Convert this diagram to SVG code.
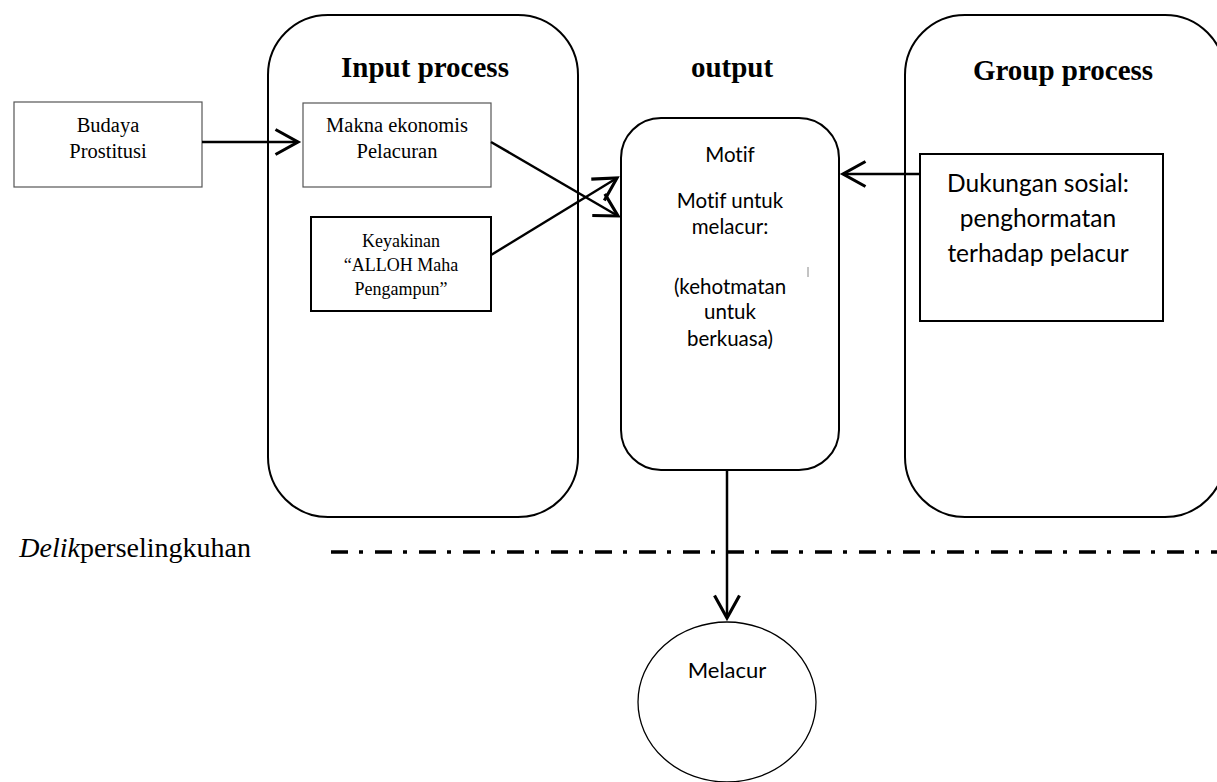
<svg xmlns="http://www.w3.org/2000/svg" width="1217" height="782" viewBox="0 0 1217 782">
<style>
.frame{fill:none;stroke:#000;stroke-width:2}
.box{fill:#fff;stroke:#555;stroke-width:1.2}
.boxb{fill:#fff;stroke:#000;stroke-width:2}
.conn{fill:none;stroke:#000;stroke-width:2.5}
.tm{font-family:"Liberation Serif","Times New Roman",serif;fill:#000;text-anchor:middle}
.title{font-size:29px;font-weight:bold}
.t20{font-size:20.5px}
.t18{font-size:18px}
.sans{font-family:Lato,"Noto Sans",sans-serif;fill:#000;text-anchor:middle;font-variant-ligatures:none;font-feature-settings:"liga" 0,"dlig" 0}
</style>
<defs>
<marker id="ah" markerUnits="userSpaceOnUse" markerWidth="30" markerHeight="30" viewBox="-20 -12 24 24" refX="0" refY="0" orient="auto">
<path d="M-18,-10 L0,0 L-18,10" fill="none" stroke="#000" stroke-width="2.5"/>
</marker>
</defs>
<rect width="1217" height="782" fill="#fff"/>

<g id="input-process">
<rect class="frame" x="268" y="15" width="310" height="502" rx="60" ry="60"/>
<text class="tm title" x="425" y="77">Input process</text>
</g>

<g id="output-title">
<text class="tm title" x="732" y="77">output</text>
</g>

<g id="group-process">
<rect class="frame" x="905" y="15" width="320" height="502" rx="60" ry="60"/>
<text class="tm title" x="1063" y="80">Group process</text>
</g>

<g id="budaya">
<rect class="box" x="14" y="102" width="188" height="85"/>
<text class="tm t20" x="108" y="132">Budaya</text>
<text class="tm t20" x="108" y="158">Prostitusi</text>
</g>

<g id="makna">
<rect class="box" x="303" y="103" width="188" height="84"/>
<text class="tm t20" x="397" y="132">Makna ekonomis</text>
<text class="tm t20" x="397" y="158">Pelacuran</text>
</g>

<g id="keyakinan">
<rect class="boxb" x="311" y="217" width="180" height="94"/>
<text class="tm t18" x="401" y="247">Keyakinan</text>
<text class="tm t18" x="401" y="271">“ALLOH Maha</text>
<text class="tm t18" x="401" y="295">Pengampun”</text>
</g>

<g id="motif">
<rect class="frame" x="621" y="118" width="218" height="352" rx="40" ry="40"/>
<text class="sans" font-size="20.5" x="730" y="162">Motif</text>
<text class="sans" font-size="20.5" x="730" y="208">Motif untuk</text>
<text class="sans" font-size="20.5" x="730" y="234">melacur:</text>
<text class="sans" font-size="20.5" x="730" y="294">(kehotmatan</text>
<text class="sans" font-size="20.5" x="730" y="319">untuk</text>
<text class="sans" font-size="20.5" x="730" y="346">berkuasa)</text>
<line x1="808" y1="267" x2="808" y2="277" stroke="#888" stroke-width="1"/>
</g>

<g id="dukungan">
<rect class="boxb" x="920" y="154" width="243" height="167"/>
<text class="sans" font-size="24.5" x="1038" y="192">Dukungan sosial:</text>
<text class="sans" font-size="24.5" x="1038" y="227">penghormatan</text>
<text class="sans" font-size="24.5" x="1038" y="262">terhadap pelacur</text>
</g>

<g id="melacur">
<ellipse cx="727" cy="702" rx="89" ry="80" fill="#fff" stroke="#000" stroke-width="1.3"/>
<text class="sans" font-size="22" x="727" y="678">Melacur</text>
</g>

<g id="delik">
<text font-family="'Liberation Serif','Times New Roman',serif" font-size="28" x="251" y="557" text-anchor="end" fill="#000"><tspan font-style="italic">Delik</tspan>perselingkuhan</text>
<line x1="331" y1="552" x2="1217" y2="552" stroke="#000" stroke-width="3.5" stroke-dasharray="17 11 4 12"/>
</g>

<g id="connectors">
<line class="conn" x1="202" y1="142" x2="298" y2="142" marker-end="url(#ah)"/>
<line class="conn" x1="491" y1="142" x2="618" y2="216" marker-end="url(#ah)"/>
<line class="conn" x1="491" y1="255" x2="617" y2="178" marker-end="url(#ah)"/>
<line class="conn" x1="920" y1="174" x2="843" y2="174" marker-end="url(#ah)"/>
<line class="conn" x1="727" y1="470" x2="727" y2="618" marker-end="url(#ah)"/>
</g>
</svg>
